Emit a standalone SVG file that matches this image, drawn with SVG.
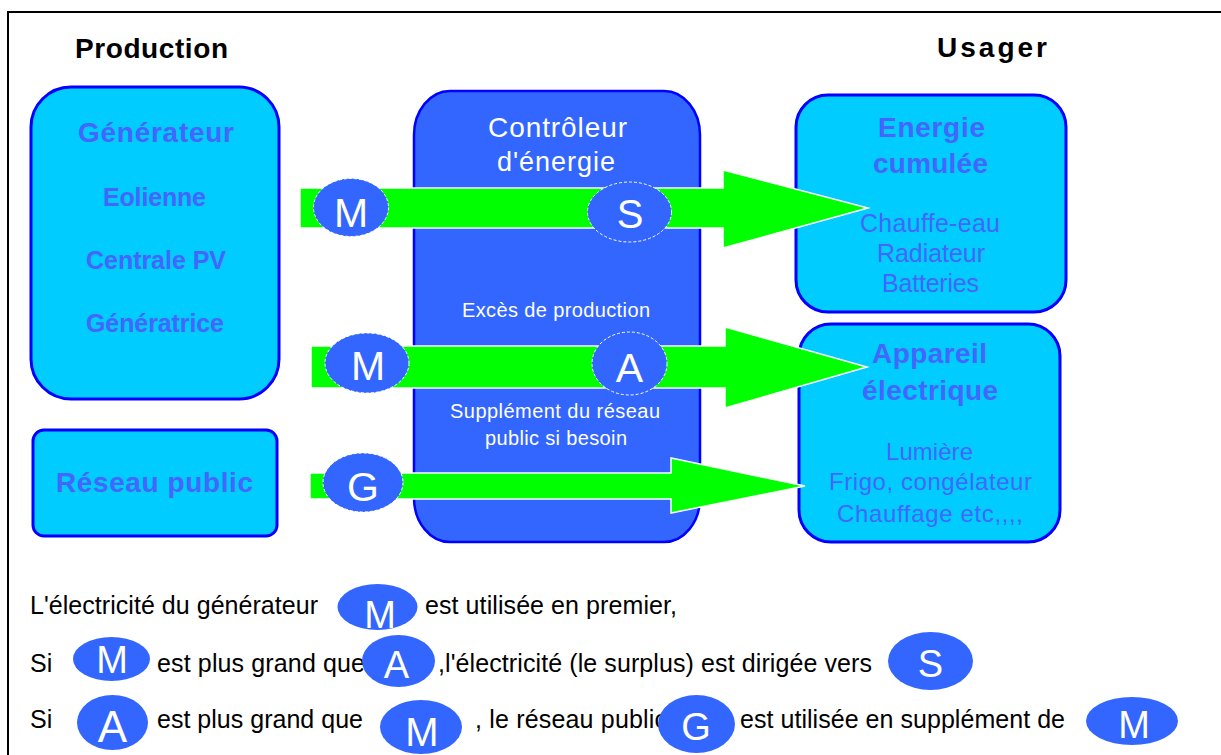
<svg xmlns="http://www.w3.org/2000/svg" width="1221" height="755" viewBox="0 0 1221 755">
<style>
.box{fill:#00ccff;stroke:#0000ff;stroke-width:3}
.ctrl{fill:#3366ff;stroke:#0000ff;stroke-width:2.5}
.hdr{font-family:"Liberation Sans",Arial,sans-serif;font-weight:bold;font-size:28px;fill:#000}
.bt{font-family:"Liberation Sans",Arial,sans-serif;font-weight:bold;fill:#4466ff;text-anchor:middle}
.rt{font-family:"Liberation Sans",Arial,sans-serif;fill:#4466ff;text-anchor:middle}
.wt{font-family:"Liberation Sans",Arial,sans-serif;fill:#ffffff;text-anchor:middle}
.arrow{fill:#00ff00;stroke:#ffffff;stroke-width:1.5}
.lab{fill:#3366ff;stroke:#ffffff;stroke-width:1;stroke-dasharray:3 2}
.leg{fill:#3366ff}
.lt{font-family:"Liberation Sans",Arial,sans-serif;fill:#ffffff;text-anchor:middle}
.tx{font-family:"Liberation Sans",Arial,sans-serif;font-size:25px;fill:#000}
</style>
<rect width="1221" height="755" fill="#ffffff"/>
<path d="M8 755 V12 H1221" fill="none" stroke="#000" stroke-width="2"/>
<text class="hdr" x="75" y="58" textLength="153" lengthAdjust="spacing">Production</text>
<text class="hdr" x="937" y="57" textLength="110" lengthAdjust="spacing">Usager</text>

<g id="generateur">
<rect class="box" x="31" y="87" width="248" height="312" rx="40" ry="40"/>
<text class="bt" x="156" y="142" font-size="28" textLength="156" lengthAdjust="spacing">Générateur</text>
<text class="bt" x="154.5" y="206" font-size="25" textLength="103" lengthAdjust="spacing">Eolienne</text>
<text class="bt" x="156" y="269" font-size="25" textLength="140" lengthAdjust="spacing">Centrale PV</text>
<text class="bt" x="155" y="332" font-size="25" textLength="138" lengthAdjust="spacing">Génératrice</text>
</g>

<g id="reseau-public">
<rect class="box" x="33" y="430" width="244" height="106" rx="11" ry="11"/>
<text class="bt" x="154.5" y="492" font-size="28" textLength="197" lengthAdjust="spacing">Réseau public</text>
</g>

<g id="controleur">
<rect class="ctrl" x="414" y="91" width="286" height="451" rx="36" ry="44"/>
<text class="wt" x="557.5" y="137" font-size="28" textLength="139" lengthAdjust="spacing">Contrôleur</text>
<text class="wt" x="556" y="171" font-size="27" textLength="118" lengthAdjust="spacing">d'énergie</text>
<text class="wt" x="556" y="317" font-size="20" textLength="188" lengthAdjust="spacing">Excès de production</text>
<text class="wt" x="555" y="418" font-size="20" textLength="210" lengthAdjust="spacing">Supplément du réseau</text>
<text class="wt" x="556" y="445" font-size="20" textLength="142" lengthAdjust="spacing">public si besoin</text>
</g>

<g id="energie-cumulee">
<rect class="box" x="796" y="95" width="270" height="217" rx="32" ry="32"/>
<text class="bt" x="931.5" y="137" font-size="28" textLength="107" lengthAdjust="spacing">Energie</text>
<text class="bt" x="930.5" y="173" font-size="28" textLength="115" lengthAdjust="spacing">cumulée</text>
<text class="rt" x="930" y="232" font-size="25" textLength="140" lengthAdjust="spacing">Chauffe-eau</text>
<text class="rt" x="931" y="262" font-size="25" textLength="108" lengthAdjust="spacing">Radiateur</text>
<text class="rt" x="930.5" y="292" font-size="25" textLength="97" lengthAdjust="spacing">Batteries</text>
</g>

<g id="appareil-electrique">
<rect class="box" x="799" y="324" width="261" height="218" rx="32" ry="32"/>
<text class="bt" x="929.5" y="363" font-size="28" textLength="115" lengthAdjust="spacing">Appareil</text>
<text class="bt" x="930" y="400" font-size="28" textLength="136" lengthAdjust="spacing">électrique</text>
<text class="rt" x="929.5" y="460" font-size="24" textLength="87" lengthAdjust="spacing">Lumière</text>
<text class="rt" x="930.5" y="490" font-size="24" textLength="203" lengthAdjust="spacing">Frigo, congélateur</text>
<text class="rt" x="930" y="522" font-size="24" textLength="186" lengthAdjust="spacing">Chauffage etc,,,,</text>
</g>

<g id="connectors">
<polygon class="arrow" points="300,188 723,188 723,170 868,208 723,248 723,228 300,228"/>
<polygon class="arrow" points="311,346 725,346 725,327 867,367 725,408 725,388 311,388"/>
<polygon class="arrow" points="310,473 671,473 671,458 805,486 671,513 671,499 310,499"/>
<ellipse class="lab" cx="351" cy="207.5" rx="37.5" ry="29"/>
<text class="lt" x="351" y="227" font-size="41">M</text>
<ellipse class="lab" cx="629.5" cy="212" rx="42" ry="30"/>
<text class="lt" x="630" y="228" font-size="40">S</text>
<ellipse class="lab" cx="367" cy="363" rx="42" ry="30"/>
<text class="lt" x="368" y="380" font-size="41">M</text>
<ellipse class="lab" cx="629.5" cy="363.5" rx="37.5" ry="31.5"/>
<text class="lt" x="629.5" y="382" font-size="41">A</text>
<ellipse class="lab" cx="363" cy="482.5" rx="40" ry="29.5"/>
<text class="lt" x="363" y="501" font-size="41">G</text>
</g>

<g id="legende">
<text class="tx" x="30" y="614" textLength="288" lengthAdjust="spacing">L'électricité du générateur</text>
<text class="tx" x="425" y="614" textLength="252" lengthAdjust="spacing">est utilisée en premier,</text>
<text class="tx" x="30" y="672">Si</text>
<text class="tx" x="157" y="672" textLength="208" lengthAdjust="spacing">est plus grand que</text>
<text class="tx" x="438" y="672" textLength="434" lengthAdjust="spacing">,l'électricité (le surplus) est dirigée vers</text>
<text class="tx" x="30" y="728">Si</text>
<text class="tx" x="157" y="728" textLength="206" lengthAdjust="spacing">est plus grand que</text>
<text class="tx" x="475" y="728" textLength="192" lengthAdjust="spacing">, le réseau public</text>
<text class="tx" x="740" y="728" textLength="325" lengthAdjust="spacing">est utilisée en supplément de</text>
<ellipse class="leg" cx="377.5" cy="607" rx="40" ry="23"/>
<text class="lt" x="380" y="628" font-size="38">M</text>
<ellipse class="leg" cx="111.5" cy="659" rx="38.5" ry="22"/>
<text class="lt" x="112" y="673" font-size="38">M</text>
<ellipse class="leg" cx="398.5" cy="661" rx="36.5" ry="26"/>
<text class="lt" x="396.5" y="678" font-size="38">A</text>
<ellipse class="leg" cx="930.5" cy="661" rx="42.5" ry="29"/>
<text class="lt" x="930.5" y="677" font-size="38">S</text>
<ellipse class="leg" cx="112.5" cy="722.5" rx="35.5" ry="27.5"/>
<text class="lt" x="112.5" y="742" font-size="44">A</text>
<ellipse class="leg" cx="421" cy="727" rx="41" ry="27"/>
<text class="lt" x="422" y="746" font-size="40">M</text>
<ellipse class="leg" cx="696.5" cy="724" rx="38.5" ry="29"/>
<text class="lt" x="696" y="740" font-size="38">G</text>
<ellipse class="leg" cx="1132" cy="721" rx="46" ry="24"/>
<text class="lt" x="1134" y="738" font-size="38">M</text>
</g>
</svg>
